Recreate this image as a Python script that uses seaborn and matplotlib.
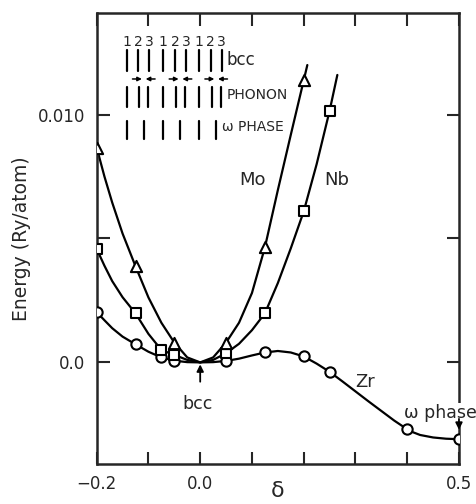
import numpy as np
import pandas as pd
import seaborn as sns
from matplotlib import pyplot as plt

# Computed points: displacement delta vs energy (Ry/atom)
zr_delta = [-0.2, -0.125, -0.075, -0.05, 0.05, 0.125, 0.2, 0.25, 0.4, 0.5]
zr_energy = [0.00203, 0.00073, 0.0002, 0.00006, 0.00006, 0.0004, 0.00024, -0.00038, -0.0027, -0.0031]

nb_delta = [-0.2, -0.125, -0.075, -0.05, 0.05, 0.125, 0.2, 0.25]
nb_energy = [0.00458, 0.00198, 0.0005, 0.0003, 0.00037, 0.00198, 0.00609, 0.01015]

mo_delta = [-0.2, -0.125, -0.05, 0.05, 0.125, 0.2]
mo_energy = [0.00867, 0.00388, 0.0008, 0.0008, 0.00464, 0.01138]

# Drawn curves
zr_curve_d = [-0.2, -0.185, -0.17, -0.15, -0.125, -0.1, -0.075, -0.05, -0.025, 0.0,
              0.025, 0.05, 0.075, 0.1, 0.125, 0.15, 0.175, 0.2, 0.225, 0.25,
              0.275, 0.3, 0.325, 0.35, 0.375, 0.39, 0.4, 0.41, 0.425, 0.45, 0.475, 0.5]
zr_curve_e = [0.00203, 0.0017, 0.00138, 0.00104, 0.00073, 0.00043, 0.0002, 0.00007, 0.00001, 0.0,
              0.00001, 0.00006, 0.00015, 0.00028, 0.0004, 0.00046, 0.0004, 0.00024, -0.00005, -0.00038,
              -0.00077, -0.00117, -0.00157, -0.00196, -0.00235, -0.00256, -0.0027, -0.00281, -0.00293,
              -0.00303, -0.00308, -0.0031]

nb_curve_d = [-0.2, -0.185, -0.17, -0.15, -0.125, -0.1, -0.075, -0.05, -0.025, 0.0,
              0.025, 0.05, 0.075, 0.1, 0.125, 0.15, 0.175, 0.2, 0.225, 0.25, 0.265]
nb_curve_e = [0.00458, 0.0039, 0.00328, 0.00263, 0.00198, 0.00115, 0.0005, 0.0003, 0.0001, 0.0,
              0.0001, 0.00037, 0.00075, 0.0013, 0.00198, 0.0032, 0.0046, 0.00609, 0.0080, 0.01015, 0.0116]

mo_curve_d = [-0.2, -0.185, -0.17, -0.15, -0.125, -0.1, -0.075, -0.05, -0.025, 0.0,
              0.025, 0.05, 0.075, 0.1, 0.125, 0.15, 0.175, 0.2, 0.207]
mo_curve_e = [0.00867, 0.0075, 0.00645, 0.0052, 0.00388, 0.00262, 0.0016, 0.0008, 0.0002, 0.0,
              0.0002, 0.0008, 0.0016, 0.0028, 0.00464, 0.00695, 0.00918, 0.01138, 0.0120]

x_ticks = [-0.2, -0.1, 0.0, 0.1, 0.2, 0.3, 0.4, 0.5]
x_tick_labels = ['\u22120.2', '', '0.0', '', '', '', '', '0.5']
y_ticks = [0.0, 0.005, 0.010]
y_tick_labels = ['0.0', '', '0.010']

sns.set_style('ticks')
plt.rcParams['font.family'] = ['DejaVu Sans']

fig = plt.figure(figsize=(4.77, 5.04), dpi=100)
ax = fig.add_axes([0.2027, 0.0794, 0.7595, 0.8948])

# curves
for cd, ce in [(zr_curve_d, zr_curve_e), (nb_curve_d, nb_curve_e), (mo_curve_d, mo_curve_e)]:
    sns.lineplot(x=cd, y=ce, sort=False, color='black', lw=1.6, ax=ax, zorder=2)

# markers
sns.scatterplot(x=zr_delta, y=zr_energy, marker='o', s=55, facecolor='white',
                edgecolor='black', linewidth=1.5, ax=ax, zorder=4)
sns.scatterplot(x=nb_delta, y=nb_energy, marker='s', s=55, facecolor='white',
                edgecolor='black', linewidth=1.5, ax=ax, zorder=4)
sns.scatterplot(x=mo_delta, y=mo_energy, marker='^', s=65, facecolor='white',
                edgecolor='black', linewidth=1.5, ax=ax, zorder=4)

ax.set_xlim(-0.2, 0.5)
ax.set_ylim(-0.0041, 0.0141)
ax.set_xticks(x_ticks)
ax.set_xticklabels(x_tick_labels)
ax.set_yticks(y_ticks)
ax.set_yticklabels(y_tick_labels)
ax.tick_params(direction='in', length=9, width=1.5, top=True, right=True,
               labelsize=12, pad=8)
for sp in ax.spines.values():
    sp.set_linewidth(1.8)
    sp.set_visible(True)

ax.set_xlabel('\u03b4', fontsize=16, va='center')
ax.xaxis.set_label_coords(0.5, -0.06)
ax.set_ylabel('Energy (Ry/atom)', fontsize=13.5, labelpad=5)

# curve labels
ax.text(0.101, 0.00736, 'Mo', fontsize=13, ha='center', va='center')
ax.text(0.263, 0.00736, 'Nb', fontsize=13, ha='center', va='center')
ax.text(0.318, -0.00079, 'Zr', fontsize=13, ha='center', va='center')

arrow_kw = dict(arrowstyle='-|>', color='black', lw=1.3, mutation_scale=10,
                shrinkA=0, shrinkB=0)
ax.text(-0.005, -0.00167, 'bcc', fontsize=12.5, ha='center', va='center')
ax.annotate('', xy=(0.0, -0.00008), xytext=(0.0, -0.00078), arrowprops=arrow_kw)

ax.text(0.465, -0.00205, '\u03c9 phase', fontsize=12.5, ha='center', va='center',
        bbox=dict(facecolor='white', edgecolor='none', pad=0.5))
ax.annotate('', xy=(0.5, -0.00272), xytext=(0.5, -0.00228), arrowprops=arrow_kw)

# inset sketch of plane stacking
plane_x = [0.0828, 0.1148, 0.1452, 0.1838, 0.2161, 0.2465, 0.2832, 0.3147, 0.3450]
tr = ax.transAxes
small_arrow = dict(arrowstyle='-|>', color='black', lw=1.1, mutation_scale=6,
                   shrinkA=0, shrinkB=0)
for i, px in enumerate(plane_x):
    ax.text(px, 0.9364, str(i % 3 + 1), transform=tr, fontsize=10, ha='center', va='center')
    ax.plot([px, px], [0.872, 0.918], transform=tr, color='black', lw=1.6)
    shift = {0: 0.0, 1: 0.003, 2: -0.003}[i % 3]
    ax.plot([px + shift, px + shift], [0.792, 0.836], transform=tr, color='black', lw=1.6)
for k in range(3):
    p1, p2, p3 = plane_x[3 * k:3 * k + 3]
    ax.plot([p1, p1], [0.720, 0.761], transform=tr, color='black', lw=1.6)
    pm = (p2 + p3) / 2
    ax.plot([pm, pm], [0.720, 0.761], transform=tr, color='black', lw=1.6)
    ax.annotate('', xy=(p2 + 0.010, 0.8537), xytext=(p2 - 0.016, 0.8537), xycoords=tr,
                arrowprops=small_arrow)
    ax.annotate('', xy=(p3 - 0.010, 0.8537), xytext=(p3 + 0.016, 0.8537), xycoords=tr,
                arrowprops=small_arrow)

ax.text(0.359, 0.896, 'bcc', transform=tr, fontsize=12, ha='left', va='center')
ax.text(0.359, 0.818, 'PHONON', transform=tr, fontsize=10, ha='left', va='center')
ax.text(0.347, 0.748, '\u03c9 PHASE', transform=tr, fontsize=10, ha='left', va='center')

fig.savefig('out.png', dpi=100)
